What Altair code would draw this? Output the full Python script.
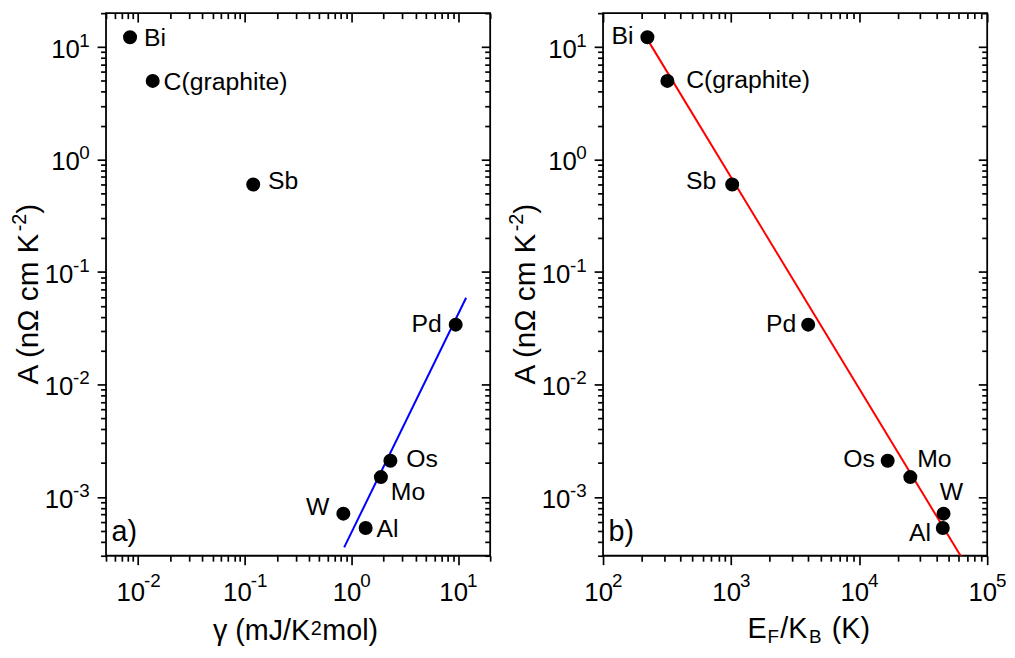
import altair as alt
import pandas as pd

# ---------------- data ----------------
materials = ["Bi", "C(graphite)", "Sb", "Pd", "Os", "Mo", "W", "Al"]
A_values = [12.2, 5.0, 0.60, 0.034, 0.0021, 0.0015, 0.00071, 0.00053]
gamma_values = [0.0084, 0.0137, 0.12, 9.5, 2.32, 1.89, 0.84, 1.36]
ef_kb_values = [222, 318, 1020, 4000, 16700, 25100, 45600, 45000]

fit_a_gamma = [0.855, 11.9]
fit_a_A = [3.56e-4, 0.059]
fit_b_ef = [219, 62500]
fit_b_A = [12.0, 2.95e-4]

x_a_domain = [0.005, 20]
x_b_domain = [100, 100000]
y_domain = [3e-4, 20]

# tick labels: 10 with exponent
x_a_decades = [0.01, 0.1, 1, 10]
x_a_exps = ["-2", "-1", "0", "1"]
x_b_decades = [100, 1000, 10000, 100000]
x_b_exps = ["2", "3", "4", "5"]
y_decades = [0.001, 0.01, 0.1, 1, 10]
y_exps = ["-3", "-2", "-1", "0", "1"]

x_a_title_parts = ["γ (mJ/K", "2", "mol)"]
x_b_title_parts = ["E", "F", "/K", "B", "(K)"]
y_title_parts = ["A (nΩ cm K", "-2", ")"]
panel_tags = ["a)", "b)"]

# ---------------- style ----------------
W, H = 388, 548
FONT = "Liberation Sans"
TICK_FS = 26
EXP_FS = 19
TITLE_FS = 29
SUB_FS = 20
LABEL_FS = 25
MAJOR_T, MINOR_T, TICK_W = 9, 5.5, 1.7

# label placement per panel: material -> (align, dx, dy)
place_a = {
    "Bi": ("left", 14, 1), "C(graphite)": ("left", 11, 1), "Sb": ("left", 15, -3),
    "Pd": ("right", -14, -1), "Os": ("left", 16, -2), "Mo": ("left", 10, 15),
    "W": ("right", -14, -7), "Al": ("left", 11, 1),
}
place_b = {
    "Bi": ("right", -14, -1), "C(graphite)": ("left", 19, -1), "Sb": ("right", -16, -3),
    "Pd": ("right", -12, -1), "Os": ("right", -13, -2), "Mo": ("left", 7, -18),
    "W": ("center", 8, -22), "Al": ("right", -12, 5),
}


def log_ticks(lo, hi, majors):
    vals = []
    for e in range(-5, 6):
        for m in range(1, 10):
            v = m * 10.0 ** e
            if lo * (1 - 1e-9) <= v <= hi * (1 + 1e-9) and ((m == 1) == majors):
                vals.append(v)
    return vals


def tick_axis(vals, orient, size, offset=0):
    kw = dict(values=vals, orient=orient, labels=False, domain=False, grid=False,
              title=None, tickSize=size, tickWidth=TICK_W, tickColor="black")
    if offset:
        kw["offset"] = offset
    return alt.Axis(**kw)


def txt(df, align, baseline, size, **kw):
    return alt.Chart(df).mark_text(align=align, baseline=baseline, font=FONT,
                                   fontSize=size, color="black", **kw)


def panel(xvals, xdomain, decades, exps, fit_x, fit_y, fit_color, placement, tag, xtitle_specs):
    df = pd.DataFrame({"material": materials, "x": xvals, "A": A_values})
    fit_df = pd.DataFrame({"x": fit_x, "A": fit_y})
    xs = alt.Scale(type="log", domain=xdomain, nice=False)
    ys = alt.Scale(type="log", domain=y_domain, nice=False)
    x_major, x_minor = log_ticks(*xdomain, True), log_ticks(*xdomain, False)
    y_major, y_minor = log_ticks(*y_domain, True), log_ticks(*y_domain, False)

    x_enc = alt.X("x:Q", scale=xs, axis=tick_axis(x_major, "bottom", MAJOR_T))
    y_enc = alt.Y("A:Q", scale=ys, axis=tick_axis(y_major, "left", MAJOR_T))

    base = alt.Chart(df)
    layers = [
        alt.Chart(fit_df).mark_line(color=fit_color, strokeWidth=2, clip=True).encode(x=x_enc, y=y_enc),
        base.mark_circle(size=200, color="black", opacity=1).encode(x=x_enc, y=y_enc),
    ]
    for m in materials:
        align, dx, dy = placement[m]
        layers.append(
            txt(df, align, "middle", LABEL_FS, dx=dx, dy=dy)
            .transform_filter(alt.datum.material == m)
            .encode(x=x_enc, y=y_enc, text="material:N")
        )

    # x tick labels "10" + exponent
    xl = pd.DataFrame({"x": decades, "exp": exps})
    for cond, off in (("datum.x < 0.5", 7), ("datum.x >= 0.5", 10)):
        layers.append(txt(xl, "right", "alphabetic", TICK_FS, dx=off).transform_filter(cond)
                      .encode(x=x_enc, y=alt.value(H + 45.5), text=alt.value("10")))
        layers.append(txt(xl, "left", "alphabetic", EXP_FS, dx=off - 1).transform_filter(cond)
                      .encode(x=x_enc, y=alt.value(H + 32), text="exp:N"))
    # y tick labels
    yl = pd.DataFrame({"A": y_decades, "exp": y_exps})
    for cond, xpos in (("datum.A < 0.5", -33), ("datum.A >= 0.5", -26.5)):
        layers.append(txt(yl, "right", "alphabetic", TICK_FS, dy=11).transform_filter(cond)
                      .encode(x=alt.value(xpos), y=y_enc, text=alt.value("10")))
    layers.append(txt(yl, "right", "alphabetic", EXP_FS)
                  .encode(x=alt.value(-16.5), y=y_enc, text="exp:N"))

    # y title pieces (rotated)
    one = pd.DataFrame({"t": [0]})
    ys_specs = [(y_title_parts[0], -69, 375, 30), (y_title_parts[1], -81, 375 - 154.7, SUB_FS),
                (y_title_parts[2], -69, 375 - 154.7 - 17.8, 30)]
    for t, px, py, fs in ys_specs:
        layers.append(txt(one, "left", "alphabetic", fs, angle=270)
                      .encode(x=alt.value(px), y=alt.value(py), text=alt.value(t)))
    # x title pieces
    for t, px, py, fs in xtitle_specs:
        layers.append(txt(one, "left", "alphabetic", fs)
                      .encode(x=alt.value(px), y=alt.value(py), text=alt.value(t)))
    # panel tag
    layers.append(txt(one, "left", "alphabetic", TITLE_FS)
                  .encode(x=alt.value(5.5), y=alt.value(H - 15), text=alt.value(tag)))
    # invisible layout anchor (fixes the left / bottom extent of the panel)
    layers.append(alt.Chart(one).mark_rule(color="white", strokeWidth=0.01)
                  .encode(x=alt.value(-98), x2=alt.value(-97), y=alt.value(H + 92)))

    inner = alt.layer(*layers)
    minor = alt.Chart(df).mark_point(opacity=0).encode(
        x=alt.X("x:Q", scale=xs, axis=tick_axis(x_minor, "bottom", MINOR_T)),
        y=alt.Y("A:Q", scale=ys, axis=tick_axis(y_minor, "left", MINOR_T)),
    )
    mirror_major = alt.Chart(df).mark_point(opacity=0).encode(
        x=alt.X("x:Q", scale=xs, axis=tick_axis(x_major, "bottom", MAJOR_T, -H)),
        y=alt.Y("A:Q", scale=ys, axis=tick_axis(y_major, "left", MAJOR_T, -W)),
    )
    mirror_minor = alt.Chart(df).mark_point(opacity=0).encode(
        x=alt.X("x:Q", scale=xs, axis=tick_axis(x_minor, "bottom", MINOR_T, -H)),
        y=alt.Y("A:Q", scale=ys, axis=tick_axis(y_minor, "left", MINOR_T, -W)),
    )
    return (
        alt.layer(inner, minor, mirror_major, mirror_minor)
        .resolve_axis(x="independent", y="independent")
        .properties(width=W, height=H)
    )


xa_specs = [(x_a_title_parts[0], 108, H + 85, TITLE_FS),
            (x_a_title_parts[1], 206.8, H + 80, SUB_FS),
            (x_a_title_parts[2], 218.5, H + 85, TITLE_FS)]
xb_specs = [(x_b_title_parts[0], 146, H + 83, TITLE_FS),
            (x_b_title_parts[1], 166, H + 88, 19),
            (x_b_title_parts[2], 179, H + 83, TITLE_FS),
            (x_b_title_parts[3], 208, H + 88, 19),
            (x_b_title_parts[4], 231, H + 83, TITLE_FS)]

pa = panel(gamma_values, x_a_domain, x_a_decades, x_a_exps, fit_a_gamma, fit_a_A, "#0000ff",
           place_a, panel_tags[0], xa_specs)
pb = panel(ef_kb_values, x_b_domain, x_b_decades, x_b_exps, fit_b_ef, fit_b_A, "#ff0000",
           place_b, panel_tags[1], xb_specs)

chart = (
    alt.hconcat(pa, pb, spacing=13)
    .properties(padding={"left": 0, "top": 0, "right": -1, "bottom": 0})
    .configure(font=FONT)
    .configure_view(stroke="black", strokeWidth=1.8)
)

chart.save("out.html", embed_options={"renderer": "svg", "actions": False})
